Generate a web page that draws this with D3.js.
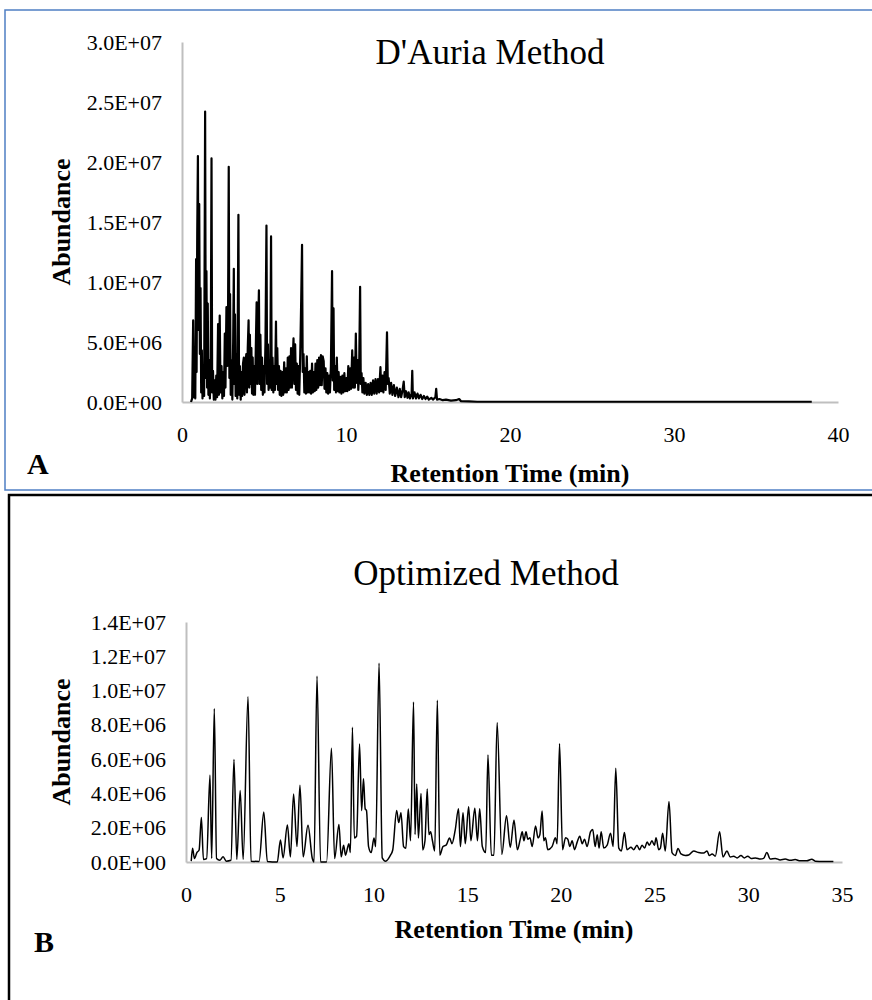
<!DOCTYPE html>
<html>
<head>
<meta charset="utf-8">
<script src="https://cdn.jsdelivr.net/npm/d3@7"></script>
<style>
  body { margin: 0; background: #fff; }
  text { font-family: "Liberation Serif", "Times New Roman", serif; fill: #000; }
</style>
</head>
<body>
<svg id="chart" width="872" height="1000"></svg>
<script>
// D'Auria method chromatogram, [retention time (min), abundance (x1e6)]
const dauriaTrace = [
  [0.55,0],[0.62,0.3],[0.68,6.8],[0.72,0.4],[0.77,2.5],[0.81,0.3],[0.86,11.9],[0.89,2.5],[0.93,14.2],[0.97,20.5],
  [1.01,6],[1.05,16.5],[1.09,4],[1.13,9.5],[1.17,0.8],[1.21,4.3],[1.25,0.3],[1.3,3],[1.35,0.5],[1.41,24.2],
  [1.45,2],[1.49,10.9],[1.53,1.2],[1.57,8.2],[1.61,0.6],[1.66,3.5],[1.7,0.3],[1.75,2.5],[1.8,20.3],[1.84,0.8],
  [1.89,2.6],[1.94,0.2],[1.99,1.8],[2.04,0.2],[2.09,2.2],[2.14,0.4],[2.2,6.5],[2.25,0.6],[2.3,7.2],[2.35,0.8],
  [2.41,3],[2.46,0.3],[2.51,2.5],[2.56,0.5],[2.61,5.7],[2.65,1.2],[2.71,7.9],[2.76,3],[2.8,5],[2.85,19.6],
  [2.89,2],[2.93,9],[2.97,0.6],[3.02,3.5],[3.07,0.2],[3.12,5],[3.16,11.1],[3.19,1.5],[3.23,7.3],[3.27,0.5],
  [3.32,4],[3.37,0.3],[3.44,15.6],[3.48,0.6],[3.53,3],[3.58,0.2],[3.63,2.5],[3.67,0.5],[3.72,3.2],[3.77,3.7],
  [3.81,0.6],[3.87,3],[3.92,4],[3.96,0.8],[4.01,4.5],[4.06,6.8],[4.1,1.2],[4.14,5.6],[4.18,1.5],[4.23,4.5],
  [4.27,0.7],[4.31,3.7],[4.35,0.6],[4.4,3],[4.45,0.6],[4.5,4.5],[4.55,8.3],[4.59,1.5],[4.64,6],[4.69,9.3],
  [4.73,1.5],[4.78,5.6],[4.83,1],[4.88,3.7],[4.93,0.6],[4.98,3],[5.03,0.8],[5.09,5],[5.15,14.7],[5.19,1.5],
  [5.24,4.8],[5.28,1],[5.33,3.5],[5.38,1.2],[5.43,13.8],[5.47,1],[5.52,3.7],[5.57,0.8],[5.62,3],[5.67,1],
  [5.73,6.7],[5.77,1.5],[5.81,4.5],[5.86,1],[5.91,3],[5.96,0.6],[6.01,2.6],[6.06,0.5],[6.12,2.5],[6.17,0.6],
  [6.23,3.3],[6.28,0.8],[6.34,2.8],[6.39,0.8],[6.45,3.7],[6.5,1],[6.55,3.8],[6.6,1.2],[6.65,4.5],[6.7,1.2],
  [6.75,3.5],[6.8,5.3],[6.85,1.5],[6.9,4.8],[6.95,1],[7.0,3.2],[7.05,0.7],[7.1,3],[7.15,0.6],[7.21,4],
  [7.27,8.6],[7.32,13.1],[7.36,2.5],[7.41,4],[7.46,0.8],[7.51,2.8],[7.56,0.7],[7.61,3.8],[7.66,0.8],[7.71,2.5],
  [7.76,0.8],[7.82,2.6],[7.87,0.7],[7.93,3.2],[7.98,0.8],[8.04,2.5],[8.09,0.9],[8.14,3.2],[8.19,1],[8.25,3.5],
  [8.3,1.2],[8.36,3.7],[8.41,1.4],[8.47,3.9],[8.52,1.4],[8.58,3.8],[8.64,3.4],[8.69,1.1],[8.75,2.8],[8.8,0.8],
  [8.86,2.4],[8.91,0.7],[8.97,2.2],[9.02,0.8],[9.08,3],[9.15,10.9],[9.19,1.8],[9.24,7.8],[9.28,1],[9.34,3],
  [9.39,0.8],[9.44,3.7],[9.49,0.9],[9.55,2.5],[9.6,0.8],[9.66,2.1],[9.72,0.7],[9.78,2.2],[9.84,0.8],[9.9,2.4],
  [9.96,0.9],[10.02,2],[10.08,0.9],[10.14,3],[10.2,1],[10.26,2.8],[10.31,1.1],[10.38,4.3],[10.43,1.2],[10.49,3.7],
  [10.54,1.2],[10.6,5.7],[10.65,1.6],[10.7,3.5],[10.75,1],[10.8,2.5],[10.86,9.6],[10.9,1.5],[10.95,2.4],[11.0,0.8],
  [11.06,2],[11.12,0.7],[11.2,1.6],[11.27,0.6],[11.35,1.5],[11.42,0.6],[11.5,1.6],[11.57,0.6],[11.65,1.8],[11.72,0.7],
  [11.8,1.9],[11.87,0.7],[11.95,1.9],[12.02,0.8],[12.1,2.9],[12.15,0.9],[12.22,2.2],[12.28,0.8],[12.35,2.5],[12.42,1],
  [12.5,5.8],[12.55,1.5],[12.6,2],[12.67,0.7],[12.75,1.6],[12.83,0.6],[12.92,1.4],[13.0,0.5],[13.1,1.2],[13.2,0.4],
  [13.28,1.1],[13.36,0.4],[13.45,1],[13.52,1.7],[13.58,0.4],[13.66,0.9],[13.75,0.35],[13.82,0.8],[13.9,0.3],[14.0,0.7],
  [14.04,2.6],[14.08,0.3],[14.18,0.8],[14.27,0.3],[14.36,0.7],[14.45,0.3],[14.55,0.6],[14.65,0.25],[14.75,0.5],[14.85,0.25],
  [14.95,0.45],[15.05,0.2],[15.2,0.35],[15.3,0.2],[15.45,0.4],[15.5,1.1],[15.55,0.2],[15.7,0.25],[15.9,0.15],[16.1,0.2],
  [16.4,0.12],[16.7,0.15],[16.9,0.25],[17.0,0.08],[17.5,0.05],[18.0,0.02],[25,0.02],[38.4,0.02]
];

// Optimized method chromatogram, [retention time (min), abundance (x1e6)]
const optimizedTrace = [
  [0.28,0.05],[0.35,0.8],[0.45,0.2],[0.58,0.55],[0.7,0.7],[0.82,2.6],[0.93,0.15],[1.1,0.2],[1.28,5.07],[1.37,0.2],
  [1.51,8.95],[1.63,0.2],[1.8,0.1],[1.98,0.3],[2.15,0.05],[2.4,0.1],[2.56,5.98],[2.71,0.15],[2.89,4.17],[3.05,0.15],
  [3.31,9.64],[3.47,0.05],[3.9,0.03],[4.15,2.91],[4.34,0.03],[4.87,0],[5.04,1.29],[5.18,0.24],[5.41,2.16],[5.57,0.3],
  [5.74,3.97],[5.92,0.9],[6.08,4.48],[6.25,0.3],[6.51,2.14],[6.74,0.2],[6.83,0],[6.99,10.84],[7.18,0],[7.5,0],
  [7.76,6.64],[7.93,0.2],[8.16,2.19],[8.28,0.3],[8.41,0.98],[8.51,0.4],[8.69,1.07],[8.77,0.55],[8.88,7.86],[8.98,1.4],
  [9.1,1.5],[9.26,6.88],[9.37,3.0],[9.47,4.86],[9.56,3.1],[9.63,3.0],[9.74,0.9],[9.88,0.55],[10.03,1.4],[10.12,0.9],
  [10.3,11.59],[10.47,0.24],[10.65,0.05],[10.91,0.4],[11.03,0.7],[11.24,3.0],[11.35,2.3],[11.47,2.88],[11.61,0.9],[11.73,0.8],
  [11.86,3.09],[11.98,1.24],[12.14,9.34],[12.22,1.6],[12.31,4.55],[12.4,1.4],[12.54,4.0],[12.63,0.7],[12.75,1.24],[12.87,4.26],
  [12.96,1.6],[13.05,1.76],[13.15,1.24],[13.27,0.64],[13.41,9.43],[13.54,0.4],[13.71,0.9],[13.89,1.0],[14.06,1.4],[14.19,1.07],
  [14.36,1.84],[14.54,3.1],[14.64,0.9],[14.78,2.88],[14.9,1.07],[15.08,3.22],[15.2,1.24],[15.41,3.14],[15.55,1.24],[15.67,3.1],
  [15.81,0.9],[15.99,0.55],[16.11,6.24],[16.29,0.4],[16.43,0.4],[16.6,8.14],[16.85,0.45],[17.1,2.7],[17.3,0.85],[17.5,2.45],
  [17.68,0.72],[17.85,1.41],[17.94,1.76],[18.03,1.24],[18.14,1.76],[18.24,1.33],[18.35,1.41],[18.47,0.9],[18.65,2.1],[18.78,1.41],
  [18.88,1.59],[19.0,2.97],[19.09,1.24],[19.18,1.41],[19.3,0.72],[19.53,0.9],[19.71,1.41],[19.8,1.07],[19.93,6.9],[20.09,0.72],
  [20.25,1.41],[20.37,1.33],[20.48,0.9],[20.6,1.24],[20.73,0.72],[20.87,1.16],[21.01,1.5],[21.14,1.07],[21.26,1.33],[21.4,0.9],
  [21.58,1.76],[21.7,1.9],[21.83,0.9],[21.94,1.59],[22.04,0.81],[22.15,1.76],[22.29,0.81],[22.47,0.98],[22.65,1.67],[22.79,0.9],
  [22.93,5.47],[23.09,0.81],[23.23,0.64],[23.39,1.72],[23.53,0.72],[23.74,0.86],[23.89,0.72],[24.06,0.98],[24.2,0.72],[24.33,0.98],
  [24.47,0.81],[24.6,1.16],[24.72,0.98],[24.86,1.24],[24.99,0.98],[25.08,1.41],[25.22,0.72],[25.31,0.81],[25.43,1.67],[25.57,0.64],
  [25.77,3.53],[25.93,0.55],[26.11,0.38],[26.25,0.79],[26.41,0.47],[26.64,0.38],[26.82,0.41],[27.09,0.64],[27.35,0.55],[27.62,0.52],
  [27.8,0.64],[27.92,0.38],[28.07,0.47],[28.24,0.34],[28.47,1.76],[28.65,0.29],[28.86,0.64],[29.04,0.29],[29.22,0.34],[29.4,0.24],
  [29.61,0.38],[29.79,0.24],[29.97,0.34],[30.15,0.21],[30.38,0.24],[30.65,0.17],[30.82,0.21],[30.99,0.55],[31.17,0.17],[31.44,0.21],
  [31.7,0.12],[31.97,0.17],[32.24,0.1],[32.5,0.14],[32.77,0.07],[33.12,0.07],[33.39,0.16],[33.57,0.05],[34.0,0.03],[34.54,0.03]
];

const dauriaTicksX = [0, 10, 20, 30, 40];
const dauriaTicksY = [0, 5e6, 1e7, 1.5e7, 2e7, 2.5e7, 3e7];
const optimizedTicksX = [0, 5, 10, 15, 20, 25, 30, 35];
const optimizedTicksY = [0, 2e6, 4e6, 6e6, 8e6, 1e7, 1.2e7, 1.4e7];

const svg = d3.select("#chart");

// excel style scientific labels, e.g. 3.0E+07
const sci = v => {
    const [m, e] = v.toExponential(1).split("e");
    return m + "E" + e[0] + e.slice(1).padStart(2, "0");
};

function drawPanel(p) {
    const x = d3.scaleLinear().domain([0, p.xTicks[p.xTicks.length - 1]]).range([p.left, p.right]);
    const y = d3.scaleLinear().domain([0, p.yTicks[p.yTicks.length - 1]]).range([p.bottom, p.top]);

    // panel frame
    svg.append("rect")
        .attr("x", p.box[0]).attr("y", p.box[1])
        .attr("width", p.box[2]).attr("height", p.box[3])
        .attr("fill", "none")
        .attr("stroke", p.boxColor)
        .attr("stroke-width", p.boxWidth);

    const yAxis = svg.append("g")
        .attr("transform", `translate(${p.left},0)`)
        .call(d3.axisLeft(y).tickValues(p.yTicks).tickSize(0).tickSizeOuter(0).tickPadding(20).tickFormat(sci));
    const xAxis = svg.append("g")
        .attr("transform", `translate(0,${p.bottom})`)
        .call(d3.axisBottom(x).tickValues(p.xTicks).tickSize(0).tickSizeOuter(0).tickPadding(24).tickFormat(d3.format("d")));

    [yAxis, xAxis].forEach(a => {
        a.select(".domain").attr("stroke", "#bfbfbf").attr("stroke-width", 2);
        a.selectAll("text").attr("font-size", 22).attr("font-family", "Liberation Serif");
    });

    const line = d3.line()
        .x(d => x(d[0]))
        .y(d => y(d[1] * 1e6))
        .curve(p.curve);

    svg.append("path")
        .datum(p.trace)
        .attr("d", line)
        .attr("fill", "none")
        .attr("stroke", "#000")
        .attr("stroke-width", p.lineWidth)
        .attr("stroke-linejoin", "round");

    svg.append("text")
        .attr("x", p.titleX).attr("y", p.titleY)
        .attr("text-anchor", "middle")
        .attr("font-size", 35)
        .text(p.title);

    svg.append("text")
        .attr("x", (p.left + p.right) / 2).attr("y", p.xLabelY)
        .attr("text-anchor", "middle")
        .attr("font-size", 26).attr("font-weight", "bold")
        .text("Retention Time (min)");

    svg.append("text")
        .attr("transform", `translate(70,${(p.top + p.bottom) / 2}) rotate(-90)`)
        .attr("text-anchor", "middle")
        .attr("font-size", 26).attr("font-weight", "bold")
        .text("Abundance");

    svg.append("text")
        .attr("x", p.letterX).attr("y", p.letterY)
        .attr("font-size", 30).attr("font-weight", "bold")
        .text(p.letter);
}

drawPanel({
    trace: dauriaTrace, xTicks: dauriaTicksX, yTicks: dauriaTicksY,
    left: 182, right: 838, top: 42, bottom: 402,
    box: [5, 10, 880, 480], boxColor: "#4f7fc4", boxWidth: 1.5,
    title: "D'Auria  Method", titleX: 490, titleY: 64,
    xLabelY: 482, letter: "A", letterX: 27, letterY: 474,
    curve: d3.curveLinear, lineWidth: 2.2
});

drawPanel({
    trace: optimizedTrace, xTicks: optimizedTicksX, yTicks: optimizedTicksY,
    left: 186, right: 842, top: 622, bottom: 862,
    box: [9, 495, 880, 520], boxColor: "#000", boxWidth: 2.5,
    title: "Optimized Method", titleX: 486, titleY: 585,
    xLabelY: 938, letter: "B", letterX: 34, letterY: 952,
    curve: d3.curveMonotoneX, lineWidth: 1.5
});
</script>
</body>
</html>
